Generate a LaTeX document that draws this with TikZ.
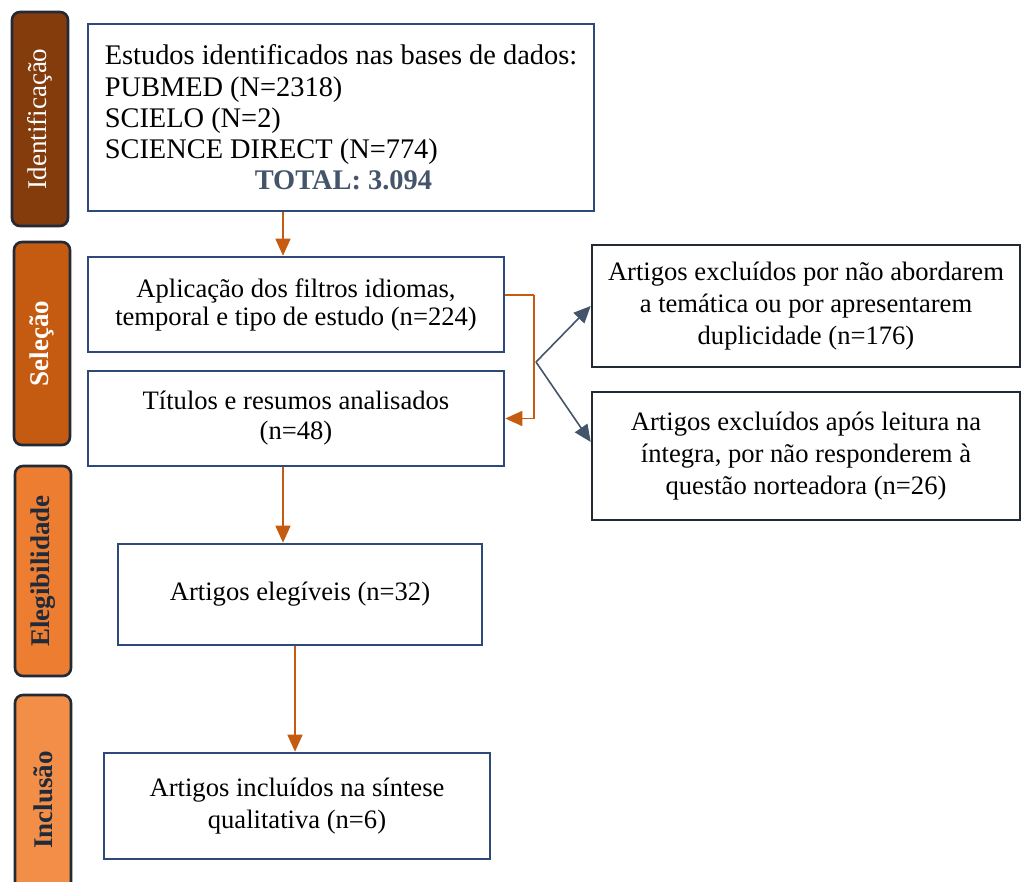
\documentclass[tikz,border=0pt]{standalone}
\usepackage{fontspec}
\setmainfont{Liberation Serif}
\usetikzlibrary{arrows.meta}
\usetikzlibrary{positioning}

\definecolor{marrom}{HTML}{843C0C}
\definecolor{ferrugem}{HTML}{C55A11}
\definecolor{laranja}{HTML}{ED7D31}
\definecolor{laranjaclaro}{HTML}{F28E48}
\definecolor{contorno}{HTML}{222A35}
\definecolor{azulcaixa}{HTML}{2F4A7A}
\definecolor{cinzaazul}{HTML}{44546A}
\definecolor{escuro}{HTML}{1F2A3A}

\tikzset{
	etapa/.style={draw=contorno, line width=1.3pt, rounded corners=4pt, rotate=90, inner sep=0pt, minimum height=28pt, font=\fontsize{13.5}{16}\selectfont},
	caixa/.style={draw=azulcaixa, line width=1.3pt, fill=white, inner sep=0pt, align=center, font=\fontsize{13.3}{16}\selectfont},
	exclusao/.style={caixa, draw=contorno},
	setalaranja/.style={draw=ferrugem, line width=0.8pt, -{Triangle[width=7.5pt,length=8.5pt]}},
	setacinza/.style={draw=cinzaazul, line width=0.8pt, -{Triangle[width=7.5pt,length=8.5pt]}}
}

\begin{document}
\begin{tikzpicture}[x=0.5pt,y=-0.5pt]
		\useasboundingbox (0,0) rectangle (1023,882);
		\node[etapa, fill=marrom, text=white, minimum width=107pt] (ident) at (40,119) {Identificação};
		\node[etapa, fill=ferrugem, text=white, minimum width=101.5pt, font=\fontsize{13.5}{16}\selectfont\bfseries] (selec) at (42,343.5) {Seleção};
		\node[etapa, fill=laranja, text=escuro, minimum width=105pt, font=\fontsize{13.5}{16}\selectfont\bfseries] (eleg) at (43,571) {Elegibilidade};
		\node[etapa, fill=laranjaclaro, text=escuro, minimum width=105pt, font=\fontsize{13.5}{16}\selectfont\bfseries] (incl) at (43,800) {Inclusão};
		\node[caixa, align=left, minimum width=253pt, minimum height=93.5pt, font=\fontsize{14.2}{15.6}\selectfont] (bases) at (341,117.5) {Estudos identificados nas bases de dados:\\PUBMED (N=2318)\\SCIELO (N=2)\\SCIENCE DIRECT (N=774)\\\hspace*{75pt}\textcolor{cinzaazul}{\textbf{TOTAL: 3.094}}};
		\node[caixa, minimum width=208pt, minimum height=47.5pt, font=\fontsize{13.3}{14}\selectfont] (filtros) at (296,304.5) {Aplicação dos filtros idiomas,\\temporal e tipo de estudo (n=224)};
		\node[caixa, minimum width=208pt, minimum height=47.5pt, font=\fontsize{13.3}{15}\selectfont] (titulos) at (296,418.5) {Títulos e resumos analisados\\(n=48)};
		\node[caixa, minimum width=182pt, minimum height=50.5pt] (elegiveis) at (300,594.5) {Artigos elegíveis (n=32)};
		\node[caixa, minimum width=193pt, minimum height=53pt] (incluidos) at (297,806) {Artigos incluídos na síntese\\qualitativa (n=6)};
		\node[exclusao, minimum width=214pt, minimum height=61pt] (excl1) at (806,306) {Artigos excluídos por não abordarem\\a temática ou por apresentarem\\duplicidade (n=176)};
		\node[exclusao, minimum width=214pt, minimum height=64pt] (excl2) at (806,456) {Artigos excluídos após leitura na\\íntegra, por não responderem à\\questão norteadora (n=26)};
		\coordinate (a1) at ([xshift=-6.5pt]filtros.north);
		\coordinate (a2) at ([xshift=-8.5pt]elegiveis.north);
		\coordinate (desvio) at (534,295);
		\coordinate (bifurca) at (536,362);
		\draw[setalaranja] (bases.south -| a1) -- (a1);
		\draw[setalaranja, -] (filtros.east |- desvio) -- (desvio);
		\draw[setalaranja] (desvio) |- (titulos.east);
		\draw[setacinza] (bifurca) -- (excl1.west);
		\draw[setacinza] (bifurca) -- ([yshift=7pt]excl2.west);
		\draw[setalaranja] (titulos.south -| a2) -- (a2);
		\draw[setalaranja] ([xshift=-2.5pt]elegiveis.south) -- ([xshift=-2.5pt]elegiveis.south |- incluidos.north);
\end{tikzpicture}
\end{document}
